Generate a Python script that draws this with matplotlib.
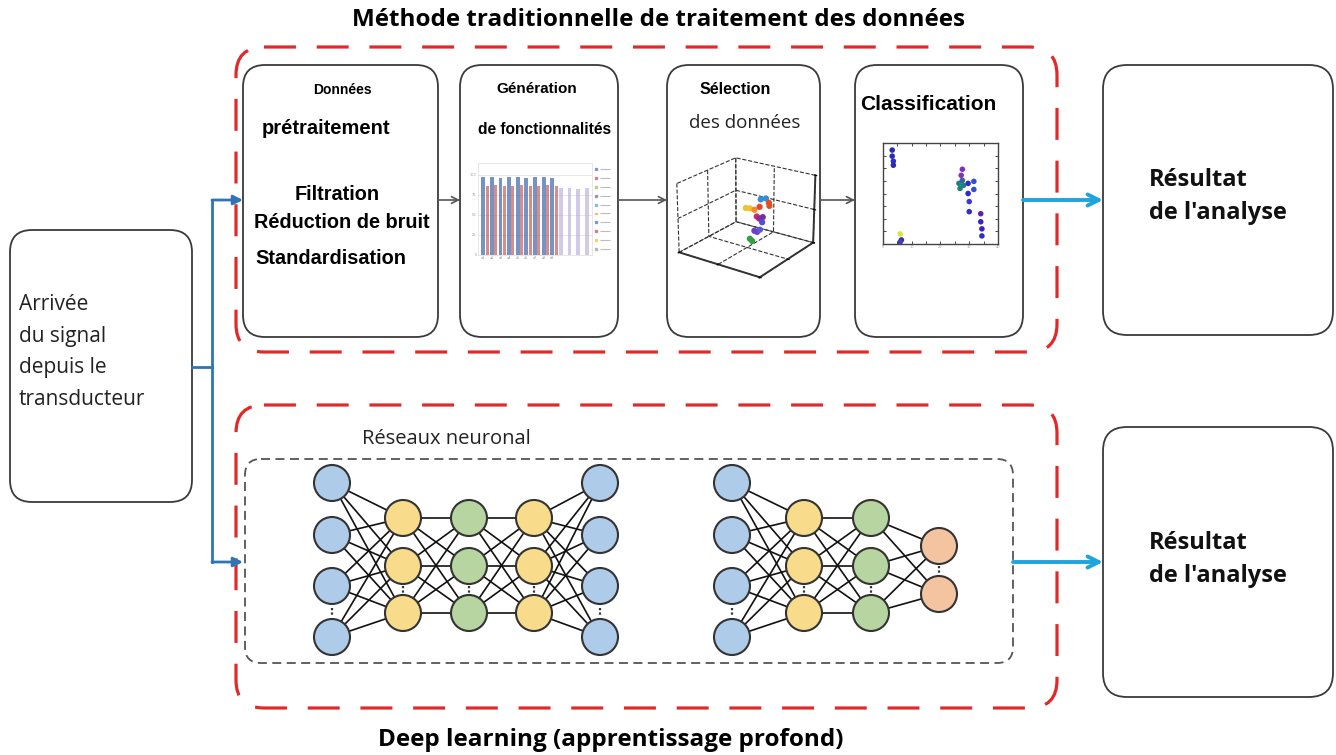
import numpy as np
import matplotlib
matplotlib.use("Agg")
import matplotlib.pyplot as plt
from matplotlib.patches import FancyBboxPatch, Circle

# ---- texts ----
title_top = "Méthode traditionnelle de traitement des données"
title_bottom = "Deep learning (apprentissage profond)"
source_label = ["Arrivée", "du signal", "depuis le", "transducteur"]
result_label = ["Résultat", "de l'analyse"]
nn_label = "Réseaux neuronal"

# ---- thumbnail data ----
feat_blue = [0.97, 0.97, 0.96, 0.97, 0.97, 0.96, 0.97, 0.97, 0.96]
feat_red = [0.86, 0.87, 0.86, 0.86, 0.87, 0.86, 0.86, 0.87, 0.86]
feat_faded = [0.84, 0.84, 0.83, 0.84]
feat_ticks = ["a1", "a2", "a3", "a4", "a5", "a6", "a7", "a8", "a9"]

sel_x = [0.45, 0.5, 0.55, 0.6, 0.62, 0.65, 0.68, 0.7, 0.6, 0.65, 0.7, 0.72, 0.66, 0.68, 0.7, 0.64, 0.66]
sel_y = [0.55, 0.55, 0.56, 0.58, 0.5, 0.5, 0.52, 0.48, 0.6, 0.62, 0.6, 0.58, 0.4, 0.42, 0.44, 0.35, 0.36]
sel_z = [0.55, 0.56, 0.55, 0.6, 0.5, 0.48, 0.5, 0.45, 0.7, 0.72, 0.68, 0.65, 0.35, 0.33, 0.36, 0.25, 0.22]
sel_c = ["#f2c12e", "#f2c12e", "#f28c28", "#e8452c", "#c0306a", "#a020a0", "#7030a0", "#5050d0",
         "#2f8fd8", "#2f8fd8", "#e05020", "#e05020", "#6a3fc0", "#7a3fd0", "#5a5ad0", "#30a040", "#30a040"]

cls_x = [0.08, 0.08, 0.09, 0.09, 0.15, 0.16, 0.15, 0.66, 0.67, 0.68, 0.69, 0.69, 0.7, 0.74, 0.74, 0.75,
         0.75, 0.79, 0.79, 0.85, 0.85, 0.86, 0.86]
cls_y = [0.93, 0.87, 0.82, 0.78, 0.1, 0.04, 0.02, 0.6, 0.55, 0.68, 0.74, 0.63, 0.58, 0.6, 0.5, 0.42, 0.32,
         0.62, 0.54, 0.3, 0.22, 0.15, 0.08]
cls_c = ["#2a2ab0", "#2a2ab0", "#3030c0", "#2a2ab0", "#e0e040", "#3030a0", "#4040b0", "#208080", "#208080",
         "#8030c0", "#8030c0", "#3a60a0", "#208080", "#2a2ad0", "#2a2ad0", "#3a3ad0", "#3030c0",
         "#3050d0", "#3050d0", "#6020b0", "#4020c0", "#4020c0", "#3030c0"]

# ---- neural networks: layer sizes and colours ----
net1_sizes = [4, 3, 3, 3, 4]
net1_colors = ["#aecbea", "#f8dc8c", "#b6d5a0", "#f8dc8c", "#aecbea"]
net2_sizes = [4, 3, 3, 2]
net2_colors = ["#aecbea", "#f8dc8c", "#b6d5a0", "#f4c4a0"]

W, H = 1336, 755
fig = plt.figure(figsize=(W / 100, H / 100), dpi=100)
ax = fig.add_axes([0, 0, 1, 1])
ax.set_xlim(0, W)
ax.set_ylim(H, 0)
ax.axis("off")

CAL = ["Open Sans", "DejaVu Sans"]
ARI = ["Liberation Sans", "DejaVu Sans"]


def rbox(x0, y0, x1, y1, r=20, ec="#3a3a3a", lw=1.3, ls="-", z=1):
    p = FancyBboxPatch((x0, y0), x1 - x0, y1 - y0,
                       boxstyle=f"round,pad=0,rounding_size={r}",
                       fc="none", ec=ec, lw=lw, ls=ls, zorder=z)
    ax.add_patch(p)


def arrow(x0, y0, x1, y1, color, lw, style="->", ms=12):
    ax.annotate("", xy=(x1, y1), xytext=(x0, y0),
                arrowprops=dict(arrowstyle=style, color=color, lw=lw,
                                mutation_scale=ms, shrinkA=0, shrinkB=0))


def inset(x0, y0, x1, y1, **kw):
    return fig.add_axes([x0 / W, 1 - y1 / H, (x1 - x0) / W, (y1 - y0) / H], **kw)


# titles
ax.text(658, 20, title_top, ha="center", va="center", fontsize=17.5, fontweight="bold", family=CAL)
ax.text(611, 740, title_bottom, ha="center", va="center", fontsize=17.5, fontweight="bold", family=CAL)

# red dashed groups
rbox(236, 47, 1057, 352, r=28, ec="#e02a2a", lw=2.3, ls=(0, (10, 6.5)))
rbox(236, 405, 1057, 708, r=28, ec="#e02a2a", lw=2.3, ls=(0, (10, 6.5)))

# left source box
rbox(10, 230, 192, 502, r=22)
for i, line in enumerate(source_label):
    ax.text(19, 305 + i * 31.5, line, ha="left", va="center", fontsize=15, family=CAL, color="#222")

# blue splitter
blue = "#2f75b5"
ax.plot([192, 212], [367, 367], color=blue, lw=2)
ax.plot([212, 212], [200, 562], color=blue, lw=2)
arrow(212, 200, 243, 200, blue, 2, style="-|>", ms=14)
arrow(212, 562, 243, 562, blue, 2, style="-|>", ms=14)

# traditional pipeline boxes
boxes = [(243, 438), (460, 618), (667, 820), (855, 1023)]
for x0, x1 in boxes:
    rbox(x0, 65, x1, 337, r=22)
for (a0, a1), (b0, b1) in zip(boxes[:-1], boxes[1:]):
    arrow(a1, 200, b0, 200, "#555555", 1.2, style="->", ms=12)

# box 1 texts
ax.text(342, 90, "Données", ha="center", va="center", fontsize=10, fontweight="bold", family=ARI)
ax.text(326, 128, "prétraitement", ha="center", va="center", fontsize=14.5, fontweight="bold", family=ARI)
ax.text(337, 195, "Filtration", ha="center", va="center", fontsize=14.3, fontweight="bold", family=ARI)
ax.text(342, 223, "Réduction de bruit", ha="center", va="center", fontsize=14.3, fontweight="bold", family=ARI)
ax.text(331, 258, "Standardisation", ha="center", va="center", fontsize=14.3, fontweight="bold", family=ARI)

# box 2 texts + bar thumbnail
ax.text(537, 89, "Génération", ha="center", va="center", fontsize=11, fontweight="bold", family=ARI)
ax.text(545, 130, "de fonctionnalités", ha="center", va="center", fontsize=11.2, fontweight="bold", family=ARI)
bx = inset(478, 163, 592, 255)
idx = np.arange(len(feat_blue))
bx.bar(idx, feat_blue, width=0.45, color="#4a6fb0", alpha=0.75)
bx.bar(idx + 0.45, feat_red, width=0.35, color="#c0504d", alpha=0.65)
fidx = np.arange(len(feat_faded)) + len(feat_blue)
bx.bar(fidx, feat_faded, width=0.45, color="#b6a8d8", alpha=0.6)
bx.set_xticks(idx)
bx.set_xticklabels(feat_ticks, fontsize=2.5, color="#999")
bx.set_yticks([0, 0.25, 0.5, 0.75, 1.0])
bx.set_yticklabels(["0", "25", "50", "75", "100"], fontsize=2.5, color="#999")
bx.tick_params(length=0, pad=1)
bx.set_ylim(0, 1.15)
bx.set_xlim(-0.6, 12.6)
bx.grid(axis="y", color="#ddd", lw=0.5)
bx.set_axisbelow(True)
for s in bx.spines.values():
    s.set_color("#ddd")
    s.set_linewidth(0.5)
lg = inset(594, 165, 614, 262)
lg.axis("off")
lg.set_xlim(0, 1)
lg.set_ylim(10.5, -0.5)
leg_colors = ["#4a6fb0", "#c0504d", "#9bbb59", "#8064a2", "#4bacc6", "#f79646", "#4a6fb0", "#c0504d",
              "#f2c12e", "#999999"]
lg.scatter([0.1] * len(leg_colors), range(len(leg_colors)), s=2, c=leg_colors, alpha=0.6, marker="s")
lg.hlines(range(len(leg_colors)), 0.3, 0.8, color="#bbb", lw=0.8)

# box 3 texts + 3D scatter
ax.text(735, 89, "Sélection", ha="center", va="center", fontsize=11.5, fontweight="bold", family=ARI)
ax.text(745, 123, "des données", ha="center", va="center", fontsize=13.5, family=CAL, color="#222")
sx = inset(660, 140, 830, 292, projection="3d")
sx.scatter(sel_x, sel_y, sel_z, c=sel_c, s=12, depthshade=False)
sx.set_xlim(0, 1)
sx.set_ylim(0, 1)
sx.set_zlim(0, 1)
sx.set_xticks([0, 0.5, 1])
sx.set_yticks([0, 0.5, 1])
sx.set_zticks([0, 0.5, 1])
sx.set_xticklabels([])
sx.set_yticklabels([])
sx.set_zticklabels([])
for axis in (sx.xaxis, sx.yaxis, sx.zaxis):
    axis.set_pane_color((1, 1, 1, 0))
    axis._axinfo["grid"]["linestyle"] = "--"
    axis._axinfo["grid"]["color"] = "#333333"
    axis._axinfo["grid"]["linewidth"] = 0.8
    axis.line.set_color("#333333")
    axis.line.set_linewidth(1.4)
sx.tick_params(length=0, pad=0)
sx.view_init(elev=22, azim=-55)
sx.patch.set_alpha(0)

# box 4 texts + scatter
ax.text(928, 105, "Classification", ha="center", va="center", fontsize=15, fontweight="bold", family=ARI)
cx = inset(883, 143, 998, 244)
cx.scatter(cls_x, cls_y, c=cls_c, s=16, marker="o", edgecolors="none")
cx.set_xlim(0, 1)
cx.set_ylim(0, 1)
cx.set_xticks(np.linspace(0, 1, 9))
cx.set_yticks(np.linspace(0, 1, 9))
cx.set_xticklabels(["0", "", "10", "", "20", "", "30", "", "40"], fontsize=2.5, color="#999")
cx.set_yticklabels([])
cx.tick_params(direction="in", length=2, width=0.5, top=True, right=True, pad=1)
for s in cx.spines.values():
    s.set_color("#444")
    s.set_linewidth(1.0)

# cyan arrows to results
cyan = "#1fa4de"
arrow(1023, 200, 1103, 200, cyan, 2.8, style="->", ms=20)
arrow(1013, 562, 1103, 562, cyan, 2.8, style="->", ms=20)

# result boxes
for y0, y1, ty in [(65, 335, 180), (427, 697, 543)]:
    rbox(1103, y0, 1333, y1, r=24)
    ax.text(1149, ty, result_label[0], ha="left", va="center", fontsize=17, fontweight="bold",
            family=CAL, color="#111")
    ax.text(1149, ty + 33, result_label[1], ha="left", va="center", fontsize=17, fontweight="bold",
            family=CAL, color="#111")

# deep learning part
ax.text(446, 439, nn_label, ha="center", va="center", fontsize=14.5, family=CAL, color="#222")
rbox(245, 459, 1013, 663, r=16, ec="#555555", lw=1.3, ls=(0, (5, 3)))


def draw_net(xs, sizes, colors):
    ys4 = [483, 535, 586, 637]
    ys3 = [518, 566, 613]
    ys2 = [546, 594]
    ymap = {4: ys4, 3: ys3, 2: ys2}
    for i in range(len(sizes) - 1):
        for ya in ymap[sizes[i]]:
            for yb in ymap[sizes[i + 1]]:
                ax.plot([xs[i], xs[i + 1]], [ya, yb], color="#111", lw=1.2, zorder=2)
    for x, n, c in zip(xs, sizes, colors):
        ys = ymap[n]
        for y in ys:
            ax.add_patch(Circle((x, y), 18, fc=c, ec="#333", lw=1.5, zorder=3))
        # little ellipsis mark between the last two nodes
        gy = (ys[-2] + ys[-1]) / 2
        ax.plot([x, x], [gy - 4, gy + 4], color="#333", lw=1.6, ls=(0, (1, 1)), zorder=4)


draw_net([332, 403, 469, 534, 600], net1_sizes, net1_colors)
draw_net([732, 804, 871, 939], net2_sizes, net2_colors)

fig.savefig("out.png", dpi=100, facecolor="white")
